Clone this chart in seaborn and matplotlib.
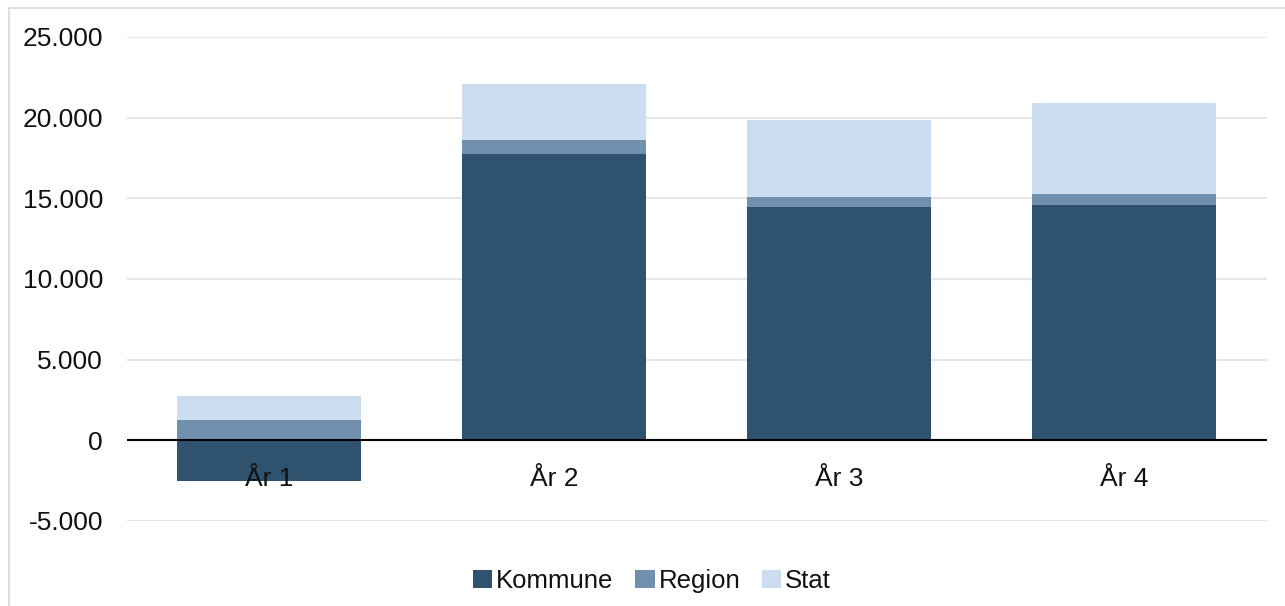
import numpy as np
import pandas as pd
import matplotlib
matplotlib.use("Agg")
import matplotlib.pyplot as plt
from matplotlib.patches import Rectangle
import seaborn as sns

years = ["År 1", "År 2", "År 3", "År 4"]
kommune = [-2520, 17750, 14450, 14580]
region = [1240, 860, 620, 680]
stat = [1490, 3450, 4780, 5640]

colors = {"Kommune": "#2F526E", "Region": "#7090AE", "Stat": "#CCDDF2"}

sns.set_theme(style="white")
plt.rcParams["font.family"] = ["Liberation Sans", "DejaVu Sans"]

fig = plt.figure(figsize=(12.85, 6.06), dpi=100)
ax = fig.add_axes([126.5 / 1285, 85 / 606, 1140 / 1285, 484 / 606])

base_region = np.clip(kommune, 0, None)
base_stat = base_region + np.array(region)

sns.barplot(x=years, y=kommune, color=colors["Kommune"], width=0.646,
            saturation=1, label="Kommune", ax=ax, linewidth=0)
sns.barplot(x=years, y=region, bottom=base_region, color=colors["Region"],
            width=0.646, saturation=1, label="Region", ax=ax, linewidth=0)
sns.barplot(x=years, y=stat, bottom=base_stat, color=colors["Stat"],
            width=0.646, saturation=1, label="Stat", ax=ax, linewidth=0)

ax.set_xlim(-0.5, 3.5)
ax.set_ylim(-5000, 25000)
ax.set_yticks(range(-5000, 25001, 5000))
ax.set_yticklabels([f"{v:,}".replace(",", ".") for v in range(-5000, 25001, 5000)])
ax.yaxis.grid(True, color="#E6E6E6", linewidth=1.5)
ax.set_axisbelow(True)
ax.xaxis.set_zorder(10)  # category labels sit on top of the bars
ax.axhline(0, color="black", linewidth=1.5, zorder=5)

for s in ax.spines.values():
    s.set_visible(False)
ax.tick_params(axis="y", length=0, pad=17, labelsize=19, labelcolor="#111111")
ax.tick_params(axis="x", length=0, labelsize=19, labelcolor="#111111")
ax.spines["bottom"].set_position(("data", 0))
ax.tick_params(axis="x", pad=19)
ax.set_xlabel("")
ax.set_ylabel("")

leg = ax.legend(loc="center", bbox_to_anchor=(0.461, -0.124),
                ncol=3, frameon=False, fontsize=18.5, handlelength=0.75,
                handleheight=0.75, handletextpad=0.15, columnspacing=0.85)
for t in leg.get_texts():
    t.set_color("#111111")

fig.add_artist(Rectangle((8.5 / 1285, -0.01), 1.02, (606 - 7.5) / 606 + 0.01,
                         transform=fig.transFigure, fill=False,
                         edgecolor="#D9D9D9", linewidth=1.2))

fig.savefig("out.png", dpi=100)
